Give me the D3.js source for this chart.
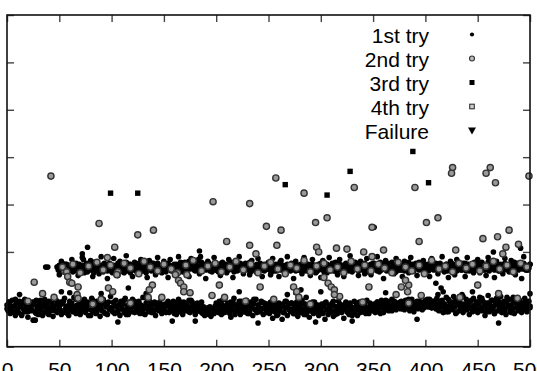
<!DOCTYPE html>
<html><head><meta charset="utf-8">
<script src="https://cdn.jsdelivr.net/npm/d3@7"></script>
<style>body{margin:0;background:#fff}svg{display:block}text{font-family:"Liberation Sans",Arial,sans-serif}</style>
</head><body><svg id="c" width="537" height="371"></svg>
<script>
// ---------- data ----------
const xTickValues = [0,50,100,150,200,250,300,350,400,450,500];
const yTickValues = [0,50,100,150,200,250,300,350];
const legendLabels = ["1st try","2nd try","3rd try","4th try","Failure"];

// 1st try, lower band, one sample per run (x = 0..500)
const lowA = [
44,38,47,35,41,49,37,43,33,46,40,36,48,42,34,45,39,50,37,43,31,46,41,38,47,
28,44,36,49,40,34,45,39,47,33,42,50,37,44,35,48,41,38,46,32,43,39,49,36,44,
40,47,34,45,38,51,36,43,41,33,48,39,46,37,52,42,35,44,40,49,34,46,38,43,50,
36,42,47,33,45,39,51,37,44,41,35,48,40,46,32,43,38,50,36,45,42,34,47,39,53,
41,37,46,35,49,42,38,44,33,48,40,45,36,51,39,43,34,47,41,37,50,44,36,46,39,
42,48,35,44,38,52,40,34,46,43,37,49,41,36,45,39,47,33,44,40,38,46,42,35,43,
40,45,37,43,47,36,41,44,38,48,35,42,46,39,50,37,44,41,34,47,43,38,45,40,49,
36,42,47,39,44,34,41,46,38,43,37,40,35,42,33,39,36,41,34,38,32,40,37,35,43,
39,45,36,48,41,34,44,38,50,42,37,46,40,35,47,43,39,51,36,44,41,38,48,34,45,
42,37,46,40,49,35,43,38,47,41,33,45,39,50,36,44,42,37,48,40,34,46,43,38,45,
39,35,44,41,30,47,37,43,40,34,46,38,42,29,45,36,41,48,33,44,39,37,46,40,35,
43,38,47,32,41,44,36,49,39,34,45,40,37,43,31,46,38,42,35,47,40,36,44,33,41,
38,45,36,42,29,47,39,34,44,40,37,46,32,43,38,41,35,48,39,44,36,42,30,45,40,
37,43,34,46,39,41,35,48,38,44,33,42,47,36,40,45,38,43,35,49,41,37,46,39,44,
38,45,36,42,47,37,44,35,49,41,36,46,39,43,48,38,45,41,50,40,44,47,39,46,42,
45,40,48,43,46,39,49,44,41,47,38,45,50,42,37,46,44,48,40,45,43,47,39,44,41,
49,44,47,42,50,45,41,48,43,46,40,51,44,38,47,42,49,36,45,40,52,43,37,48,41,
46,39,53,42,35,49,44,38,47,41,55,36,45,43,50,39,46,34,48,42,37,51,44,40,47,
36,45,52,41,38,48,43,33,46,40,54,37,44,49,39,42,35,47,51,38,45,41,53,36,43,
48,40,34,46,42,50,37,44,39,52,35,47,41,45,38,49,43,36,46,40,51,42,37,44,48,
41];
// 1st try, lower band, second sample on even runs (x = 0,2,..,500)
const lowB = [
40,46,36,43,50,38,45,33,48,41,37,44,39,47,35,42,49,36,45,40,34,47,42,38,45,
43,37,48,40,35,46,42,38,50,44,36,41,47,39,45,33,49,42,37,44,40,48,35,46,41,
39,47,43,36,45,40,49,34,44,38,42,48,37,46,41,35,43,50,39,45,36,44,40,47,38,
44,36,48,41,39,46,34,43,47,38,42,45,37,49,40,36,44,39,47,41,35,38,42,36,40,
46,38,43,49,36,41,45,39,47,34,44,40,48,37,42,46,35,43,50,39,44,38,47,41,36,
42,47,38,45,33,40,44,36,48,41,39,46,35,43,37,49,40,45,34,42,38,47,36,44,39,
41,35,46,39,43,37,48,34,42,45,38,40,47,36,44,33,41,46,39,43,37,45,40,35,42,
43,39,47,41,45,40,49,42,46,38,48,44,41,47,40,45,43,50,44,39,46,41,48,42,45,
44,50,46,41,48,43,39,47,42,45,37,50,44,40,48,36,46,42,53,39,45,41,49,38,44,
47,39,51,43,37,46,42,49,35,44,48,40,45,38,52,43,36,47,41,50,39,45,42,48,44,
43];
// 1st try, upper band (x = 48..500), first sample
const upStart = 48;
const upY = [
84,81,86,79,83,88,80,85,82,87,78,84,81,86,83,79,88,82,85,80,84,87,81,83,86,
80,85,82,88,79,84,86,81,83,89,78,85,82,87,80,84,81,86,83,79,88,82,85,80,84,
87,81,83,78,86,82,85,80,88,84,79,83,86,81,85,82,89,80,84,87,78,83,85,81,86,
82,79,85,88,81,84,80,86,83,87,78,85,82,84,89,80,86,81,83,79,85,88,82,84,80,
86,83,81,87,79,84,88,82,85,80,83,86,78,84,87,81,85,82,89,80,84,86,83,88,81,
85,90,82,86,84,88,81,87,83,85,92,80,86,89,82,84,87,81,85,83,88,80,84,86,82,
85,81,87,83,79,86,84,88,82,85,80,87,83,86,81,84,89,82,85,79,86,83,87,81,84,
88,82,85,80,86,83,87,81,84,89,79,85,82,86,83,80,87,84,81,88,85,82,86,80,84,
87,83,85,81,88,79,84,86,82,87,80,85,83,89,81,84,86,82,85,78,87,83,84,80,86,
82,85,88,80,84,86,81,83,87,79,85,82,88,84,81,86,83,80,85,87,82,84,78,86,83,
81,85,88,82,84,79,86,83,87,81,85,80,84,88,82,86,83,79,85,81,87,84,82,86,80,
84,87,82,85,80,88,83,86,81,84,89,82,85,80,87,83,86,81,84,88,82,85,79,86,83,
87,81,84,88,82,85,80,86,83,89,81,84,87,82,85,80,88,83,86,81,84,87,82,85,79,
86,83,88,81,85,82,87,80,84,86,83,89,81,85,82,87,80,84,88,83,85,81,86,82,84,
88,81,85,83,87,80,84,86,82,89,81,85,83,87,80,84,88,82,86,81,85,83,87,80,84,
86,82,88,81,85,83,87,80,84,89,82,86,81,85,83,88,80,84,87,82,85,81,86,83,89,
81,85,82,87,80,84,88,83,86,81,85,82,89,80,84,87,83,85,81,88,82,86,84,80,87,
83,85,81,88,82,86,84,80,87,83,85,81,89,82,86,84,81,87,83,85,82,88,84,86,81,
85,83,87];
// 1st try, upper band, second sample on even runs (x = 48,50,..,500), wider spread
const upB = [
84,76,90,79,87,73,85,92,80,88,75,83,94,78,86,81,91,74,89,82,77,95,80,86,72,
88,79,93,83,75,90,85,78,96,81,87,74,89,84,77,92,80,86,73,91,82,88,76,94,83,
78,90,85,73,92,81,87,76,95,84,79,89,82,74,93,86,80,91,77,88,83,72,90,85,79,
94,81,87,75,89,83,78,92,86,73,90,80,95,84,77,88,82,76,91,85,79,93,81,74,87,
82,89,76,93,80,86,74,91,84,78,95,83,88,72,90,81,86,77,94,80,87,75,92,84,79,
87,73,91,82,78,94,85,80,89,76,92,83,74,88,81,96,79,86,84,75,90,82,77,93,85,
76,88,83,95,79,86,72,91,84,80,89,77,93,85,81,74,90,87,78,94,82,86,75,89,83,
91,80,86,74,93,82,88,77,84,95,79,87,73,90,83,76,92,85,81,88,74,94,80,86,78,
85,92,78,89,81,75,94,83,87,73,90,80,86,77,93,84,79,91,82,76,88,85,72,95,81,
81,87];
// 1st try, isolated points
const try1X = [37,39,72,77,73,184,185,351,465,491,410,415,417,412,268,276,281,286,27,90,116,214,295,
  12,60,133,158,222,240,330,362,445,470,500,300,180,106,392,52];
const try1Y = [84,84,98,105,92,101,95,126,100,104,67,62,58,55,55,57,60,52,28,56,62,31,26,
  55,57,56,27,58,25,27,57,58,25,56,58,27,26,29,58];

// 2nd try
const try2X = [
55,63,70,78,86,92,99,106,112,118,126,131,137,144,150,157,163,171,178,186,192,199,205,213,219,226,233,240,246,252,
259,266,271,277,284,290,296,303,309,316,322,329,335,342,348,355,361,368,374,381,387,394,399,406,413,419,426,432,439,445,
452,458,465,471,478,484,491,497,
20,45,82,90,118,148,196,228,255,290,318,340,372,396,433,470,488,
42,88,125,140,257,284,197,232,332,248,262,295,306,349,390,426,425,462,458,467,499,401,412,480,469,455,
96,103,97,101,105,26,34,53,57,58,60,62,68,67,68,
210,232,238,203,208,242,139,136,135,161,164,166,169,169,175,172,
258,296,298,315,325,341,349,360,346,274,277,279,303,307,310,313,313,
394,429,477,489,474,450,377,384,383,384,381];
const try2Y = [
80,87,78,85,89,81,86,79,88,83,77,90,84,80,87,82,78,86,91,80,85,88,79,84,90,81,87,78,85,89,
82,77,86,83,91,79,85,88,81,84,78,90,82,86,80,87,83,78,89,84,80,86,77,91,82,85,79,88,83,87,
80,85,90,82,86,79,88,84,
48,52,45,50,46,52,54,48,50,45,53,47,55,54,52,56,51,
180,130,118,123,178,162,153,151,168,127,123,131,136,126,168,189,183,189,183,173,180,131,136,123,116,114,
94,105,62,58,76,68,56,84,79,74,68,67,63,55,51,
111,107,98,65,52,63,65,60,52,76,70,67,63,58,57,76,
107,105,100,104,103,100,95,102,63,63,58,52,73,67,63,60,55,
111,102,105,108,98,65,63,65,58,46,70];

// 3rd try
const try3X = [99,125,266,306,328,388,403];
const try3Y = [162,162,171,160,185,206,173];

// ---------- chart ----------
const svg = d3.select("#c");
const x = d3.scaleLinear().domain([0,500]).range([7,530]);
const y = d3.scaleLinear().domain([0,350]).range([346.7,15]);

function styleAxis(g){
  g.select(".domain").remove();
  g.selectAll(".tick line").attr("stroke","#444").attr("stroke-width",1.4);
  g.selectAll(".tick text").attr("fill","#000").style("font-size","21px")
   .style("font-family",'"Liberation Sans",Arial,sans-serif');
}
svg.append("g").attr("transform","translate(0,346.7)")
  .call(d3.axisBottom(x).tickValues(xTickValues).tickSize(-7).tickPadding(15)).call(styleAxis);
svg.append("g").attr("transform","translate(0,15)")
  .call(d3.axisTop(x).tickValues(xTickValues).tickSize(-7).tickFormat("")).call(styleAxis);
svg.append("g").attr("transform","translate(7,0)")
  .call(d3.axisLeft(y).tickValues(yTickValues).tickSize(-7).tickFormat("")).call(styleAxis);
svg.append("g").attr("transform","translate(530,0)")
  .call(d3.axisRight(y).tickValues(yTickValues).tickSize(-7).tickFormat("")).call(styleAxis);

// points
const try1 = [];
lowA.forEach((v,i)=>try1.push({x:i,y:v}));
lowB.forEach((v,i)=>try1.push({x:i*2,y:v}));
upY.forEach((v,i)=>try1.push({x:upStart+i,y:v}));
upB.forEach((v,i)=>try1.push({x:upStart+i*2,y:v}));
try1X.forEach((v,i)=>try1.push({x:v,y:try1Y[i]}));
const try2 = try2X.map((v,i)=>({x:v,y:try2Y[i]}));
const try3 = try3X.map((v,i)=>({x:v,y:try3Y[i]}));

const plot = svg.append("g");
plot.selectAll("circle.t1").data(try1).join("circle").attr("class","t1")
  .attr("cx",d=>x(d.x)).attr("cy",d=>y(d.y)).attr("r",2.8).attr("fill","#000");
plot.selectAll("circle.t2").data(try2).join("circle").attr("class","t2")
  .attr("cx",d=>x(d.x)).attr("cy",d=>y(d.y)).attr("r",3.1)
  .attr("fill","#9a9a9a").attr("stroke","#333").attr("stroke-width",1.4);
plot.selectAll("rect.t3").data(try3).join("rect").attr("class","t3")
  .attr("x",d=>x(d.x)-2.7).attr("y",d=>y(d.y)-2.7).attr("width",5.4).attr("height",5.4).attr("fill","#000");

// frame
svg.append("rect").attr("x",7).attr("y",15).attr("width",523).attr("height",331.7)
  .attr("fill","none").attr("stroke","#111").attr("stroke-width",1.6);

// legend
const lg = svg.append("g");
legendLabels.forEach((t,i)=>{
  const by = 42.7 + i*24, my = 34.5 + i*24;
  lg.append("text").attr("x",429).attr("y",by).attr("text-anchor","end")
    .style("font-size","21px").attr("fill","#000").text(t);
  const mx = 472;
  if(i===0) lg.append("circle").attr("cx",mx).attr("cy",my).attr("r",2.1).attr("fill","#000");
  if(i===1) lg.append("circle").attr("cx",mx).attr("cy",my).attr("r",2.5).attr("fill","#bbb").attr("stroke","#333").attr("stroke-width",1.1);
  if(i===2) lg.append("rect").attr("x",mx-2.5).attr("y",my-2.5).attr("width",5).attr("height",5).attr("fill","#000");
  if(i===3) lg.append("rect").attr("x",mx-2.3).attr("y",my-2.3).attr("width",4.6).attr("height",4.6).attr("fill","#ccc").attr("stroke","#333").attr("stroke-width",1.1);
  if(i===4) lg.append("path").attr("d",`M${mx-4},${my-3}L${mx+4},${my-3}L${mx},${my+4}Z`).attr("fill","#000");
});
</script></body></html>
